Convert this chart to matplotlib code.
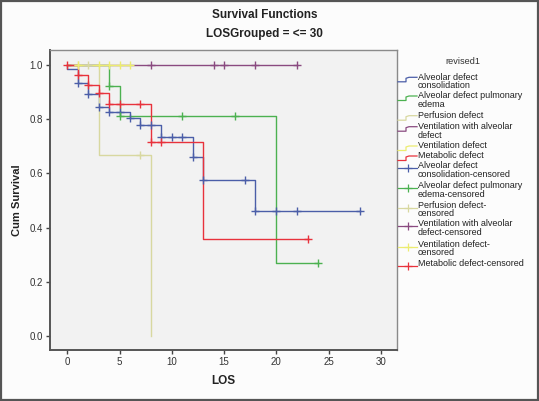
import matplotlib
matplotlib.use("Agg")
import matplotlib.pyplot as plt
from matplotlib.lines import Line2D
from matplotlib.patches import Rectangle

W, H = 539, 401
FONT = "Liberation Sans"

# ---------------- data ----------------
series_names = ["Alveolar defect\nconsolidation", "Alveolar defect pulmonary\nedema",
                "Perfusion defect", "Ventilation with alveolar\ndefect",
                "Ventilation defect", "Metabolic defect"]
censor_names = ["Alveolar defect\nconsolidation-censored", "Alveolar defect pulmonary\nedema-censored",
                "Perfusion defect-\ncensored", "Ventilation with alveolar\ndefect-censored",
                "Ventilation defect-\ncensored", "Metabolic defect-censored"]
colors = ["#4b5ea8", "#4cb150", "#d8d8a0", "#8a4a80", "#ecec70", "#e8323c"]

# Alveolar defect consolidation
cons_event_t = [0, 1, 2, 3, 4, 6, 7, 9, 12, 13, 18]
cons_event_s = [0.985, 0.935, 0.892, 0.844, 0.826, 0.804, 0.779, 0.735, 0.659, 0.577, 0.461]
cons_end_t = 28
cons_cens_t = [1, 2, 3, 4, 5, 6, 7, 8, 9, 10, 11, 12, 13, 17, 18, 20, 22, 28]
cons_cens_s = [0.935, 0.892, 0.844, 0.826, 0.826, 0.804, 0.779, 0.779, 0.735, 0.735, 0.735,
               0.659, 0.577, 0.577, 0.461, 0.461, 0.461, 0.461]

# Alveolar defect pulmonary edema
edema_event_t = [4, 5, 20]
edema_event_s = [0.923, 0.810, 0.270]
edema_end_t = 24
edema_cens_t = [4, 5, 11, 16, 24]
edema_cens_s = [0.923, 0.810, 0.810, 0.810, 0.270]

# Perfusion defect
perf_event_t = [3, 8]
perf_event_s = [0.667, 0.0]
perf_end_t = 8
perf_cens_t = [1, 2, 7]
perf_cens_s = [1.0, 1.0, 0.667]

# Ventilation with alveolar defect
vwa_event_t = []
vwa_event_s = []
vwa_end_t = 22
vwa_cens_t = [8, 14, 15, 18, 22]
vwa_cens_s = [1.0, 1.0, 1.0, 1.0, 1.0]

# Ventilation defect
vent_event_t = []
vent_event_s = []
vent_end_t = 6
vent_cens_t = [1, 3, 4, 5, 6]
vent_cens_s = [1.0, 1.0, 1.0, 1.0, 1.0]

# Metabolic defect
met_event_t = [1, 2, 3, 4, 8, 13]
met_event_s = [0.963, 0.926, 0.896, 0.857, 0.714, 0.357]
met_end_t = 23
met_cens_t = [0, 1, 2, 3, 4, 5, 7, 8, 9, 23]
met_cens_s = [1.0, 0.963, 0.926, 0.896, 0.857, 0.857, 0.857, 0.714, 0.714, 0.357]

x_ticks = [0, 5, 10, 15, 20, 25, 30]
y_ticks = [0.0, 0.2, 0.4, 0.6, 0.8, 1.0]

all_series = [
    (cons_event_t, cons_event_s, cons_end_t, cons_cens_t, cons_cens_s),
    (edema_event_t, edema_event_s, edema_end_t, edema_cens_t, edema_cens_s),
    (perf_event_t, perf_event_s, perf_end_t, perf_cens_t, perf_cens_s),
    (vwa_event_t, vwa_event_s, vwa_end_t, vwa_cens_t, vwa_cens_s),
    (vent_event_t, vent_event_s, vent_end_t, vent_cens_t, vent_cens_s),
    (met_event_t, met_event_s, met_end_t, met_cens_t, met_cens_s),
]

# ---------------- figure ----------------
fig = plt.figure(figsize=(W / 100, H / 100), dpi=100)
fig.patch.set_facecolor("#fcfcfc")

def fx(px):
    return px / W

def fy(py):
    return 1 - py / H

ax = fig.add_axes([fx(50), fy(350), fx(397) - fx(50), fy(50) - fy(350)])
ax.set_facecolor("#f2f2f2")
ax.set_xlim(-1.66, 31.55)
ax.set_ylim(-0.052, 1.055)

draw_order = [2, 4, 3, 1, 0, 5]
for i in draw_order:
    et, es, end_t, ct, cs = all_series[i]
    xs = [0] + list(et) + [end_t]
    ys = [1.0] + list(es) + [es[-1] if es else 1.0]
    ax.step(xs, ys, where="post", color=colors[i], lw=1.0, zorder=2 + i * 0.1)
    ax.plot(ct, cs, linestyle="none", marker="+", ms=5.5, mew=1.0,
            color=colors[i], zorder=3 + i * 0.1)

ax.set_xticks(x_ticks)
ax.set_xticklabels([str(v) for v in x_ticks])
ax.set_yticks(y_ticks)
ax.set_yticklabels([f"{v:.1f}" for v in y_ticks])
ax.tick_params(direction="out", length=3, width=1, colors="#444444", labelsize=7,
               labelcolor="#333333", pad=2)
for lab in ax.get_xticklabels() + ax.get_yticklabels():
    lab.set_fontfamily(FONT)
for s in ["top", "right"]:
    ax.spines[s].set_color("#8a8a8a")
    ax.spines[s].set_linewidth(1.0)
for s in ["left", "bottom"]:
    ax.spines[s].set_color("#555555")
    ax.spines[s].set_linewidth(1.4)

fig.text(fx(17), fy(200), "Cum Survival", rotation=90, ha="center", va="center",
         fontsize=8, fontweight="bold", family=FONT, color="#222222")
fig.text(fx(223), fy(381), "LOS", ha="center", va="center",
         fontsize=8.5, fontweight="bold", family=FONT, color="#222222")

fig.text(fx(265), fy(15), "Survival Functions", ha="center", va="center",
         fontsize=8.5, fontweight="bold", family=FONT, color="#222222")
fig.text(fx(264), fy(34), "LOSGrouped = <= 30", ha="center", va="center",
         fontsize=8.5, fontweight="bold", family=FONT, color="#222222")

# ---------------- legend (manual, SPSS style) ----------------
fig.text(fx(463), fy(62), "revised1", ha="center", va="center",
         fontsize=6.6, family=FONT, color="#333333")

leg_rows = [77.3, 96, 115.7, 126.7, 146, 156, 165.7, 185.7, 205.7, 224, 244.3, 263.3]
line_gap = 8.3
labels = series_names + censor_names
for k, (lab, y0) in enumerate(zip(labels, leg_rows)):
    c = colors[k % 6]
    yl = y0 + 2.5
    if k < 6:
        xs = [fx(398), fx(406), fx(406), fx(409), fx(409), fx(417)]
        ys = [fy(yl + 2), fy(yl + 2), fy(yl - 1.5), fy(yl - 2.5), fy(yl - 2.5), fy(yl - 2.5)]
        fig.add_artist(Line2D(xs, ys, color=c, lw=0.9, transform=fig.transFigure))
    else:
        fig.add_artist(Line2D([fx(398), fx(417)], [fy(yl), fy(yl)], color=c, lw=0.9,
                              transform=fig.transFigure))
        fig.add_artist(Line2D([fx(407.5)], [fy(yl)], color=c, marker="+", ms=6, mew=0.9,
                              linestyle="none", transform=fig.transFigure))
    for j, part in enumerate(lab.split("\n")):
        fig.text(fx(418), fy(y0 + j * line_gap), part, ha="left", va="center",
                 fontsize=6.5, family=FONT, color="#222222")

# outer border
fig.add_artist(Rectangle((0.0015, 0.002), 0.997, 0.996, transform=fig.transFigure,
                         fill=False, edgecolor="#555555", lw=1.6))

fig.savefig("out.png", dpi=100, facecolor=fig.get_facecolor())
